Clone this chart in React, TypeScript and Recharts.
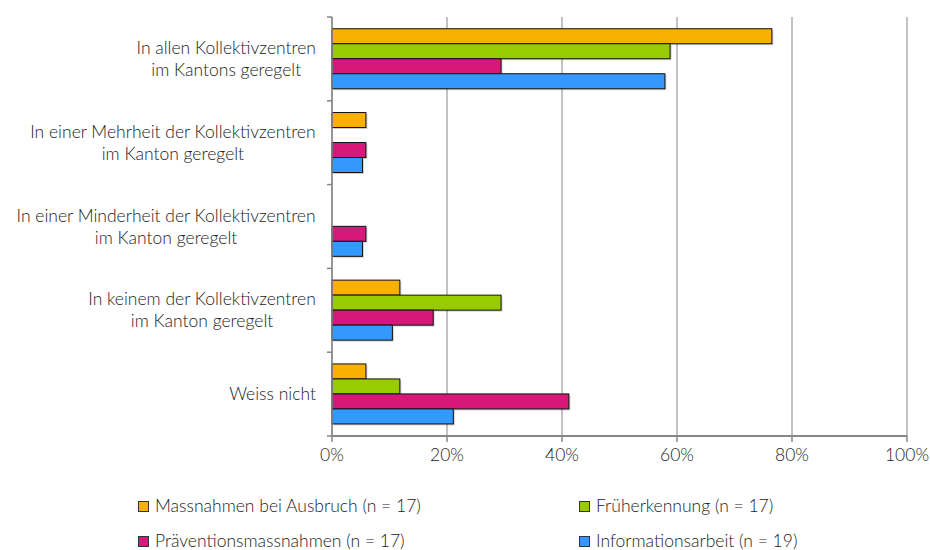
import { BarChart, Bar, XAxis, YAxis, CartesianGrid, Legend } from "recharts";

document.body.style.margin = "0";

const categories = [
  "In allen Kollektivzentren\nim Kantons geregelt",
  "In einer Mehrheit der Kollektivzentren\nim Kanton geregelt",
  "In einer Minderheit der Kollektivzentren\nim Kanton geregelt",
  "In keinem der Kollektivzentren\nim Kanton geregelt",
  "Weiss nicht",
];

// shares in percent
const massnahmen = [76.5, 5.9, 0, 11.8, 5.9];
const frueherkennung = [58.8, 0, 0, 29.4, 11.8];
const praevention = [29.4, 5.9, 5.9, 17.6, 41.2];
const information = [57.9, 5.3, 5.3, 10.5, 21.1];

const seriesNames = [
  "Massnahmen bei Ausbruch (n = 17)",
  "Früherkennung (n = 17)",
  "Präventionsmassnahmen (n = 17)",
  "Informationsarbeit (n = 19)",
];
const xTicks = [0, 20, 40, 60, 80, 100];

const colors = ["#F9B000", "#99CC00", "#D6187A", "#3399FF"];
const keys = ["massnahmen", "frueherkennung", "praevention", "information"];

const data = categories.map((name, i) => ({
  name,
  massnahmen: massnahmen[i],
  frueherkennung: frueherkennung[i],
  praevention: praevention[i],
  information: information[i],
}));

const W = 930;
const H = 550;
const MARGIN = { top: 17, right: 23, left: 0, bottom: 0 };
const AXIS_X = 332;
const X_AXIS_H = 30;
const LEGEND_H = 84;
const PLOT_H = H - MARGIN.top - X_AXIS_H - LEGEND_H;
const BAND = PLOT_H / categories.length;
const LINE_H = 22;
const FONT = "Lato, 'Open Sans', sans-serif";
const FONT_SIZE = 17.5;
const TEXT = "#222";
const GRID = "#868686";

const ctx = document.createElement("canvas").getContext("2d");
const measure = (s: string) => {
  if (!ctx) return s.length * 8;
  ctx.font = `300 ${FONT_SIZE}px Lato`;
  return ctx.measureText(s).width;
};

const CategoryTick = (props: any) => {
  const { y, payload, index } = props;
  const lines = String(payload.value).split("\n");
  const blockW = Math.max(...lines.map(measure));
  const cx = 316 - blockW / 2;
  const top = y - ((lines.length - 1) * LINE_H) / 2;
  return (
    <g>
      <line x1={AXIS_X - 5} x2={AXIS_X} y1={y - BAND / 2} y2={y - BAND / 2} stroke={GRID} strokeWidth={1.5} />
      {index === categories.length - 1 && (
        <line x1={AXIS_X - 5} x2={AXIS_X} y1={y + BAND / 2} y2={y + BAND / 2} stroke={GRID} strokeWidth={1.5} />
      )}
      <text textAnchor="middle" fill={TEXT} fontFamily={FONT} fontWeight={300} fontSize={FONT_SIZE}>
        {lines.map((l, i) => (
          <tspan key={i} x={cx} y={top + i * LINE_H} dy="0.35em">
            {l}
          </tspan>
        ))}
      </text>
    </g>
  );
};

const ShadowBar = (props: any) => {
  const { x, y, width, height, fill } = props;
  if (!width || width <= 0) return null;
  return (
    <g>
      <rect x={x + 1.5} y={y + 1.5} width={width} height={height} fill="#000" opacity={0.18} />
      <rect x={x} y={y} width={width} height={height} fill={fill} stroke="#111" strokeWidth={1} />
    </g>
  );
};

const LegendContent = () => (
  <div
    style={{
      position: "relative",
      height: LEGEND_H,
      width: W,
      fontFamily: FONT,
      fontWeight: 300,
      fontSize: FONT_SIZE,
      lineHeight: "18px",
      color: TEXT,
    }}
  >
    {seriesNames.map((name, i) => (
      <div
        key={name}
        style={{
          position: "absolute",
          left: i % 2 === 0 ? 138 : 579,
          top: i < 2 ? 31 : 66,
          height: 18,
          display: "flex",
          alignItems: "center",
          whiteSpace: "nowrap",
        }}
      >
        <span
          style={{
            display: "inline-block",
            width: 9,
            height: 9,
            background: colors[i],
            border: "1px solid #333",
            marginRight: 6,
          }}
        />
        <span>{name}</span>
      </div>
    ))}
  </div>
);

export default function App() {
  return (
    <div style={{ width: W, height: H, background: "#fff" }}>
      <BarChart
        width={W}
        height={H}
        data={data}
        layout="vertical"
        margin={MARGIN}
        barCategoryGap="14%"
        barGap={0}
      >
        <CartesianGrid horizontal={false} stroke={GRID} strokeWidth={1} />
        <XAxis
          type="number"
          domain={[0, 100]}
          ticks={xTicks}
          tickFormatter={(v) => `${v}%`}
          height={X_AXIS_H}
          axisLine={{ stroke: GRID, strokeWidth: 2 }}
          tickLine={{ stroke: GRID, strokeWidth: 1.5 }}
          tickSize={6}
          tickMargin={7}
          tick={{ fill: TEXT, fontFamily: FONT, fontWeight: 300, fontSize: FONT_SIZE }}
        />
        <YAxis
          type="category"
          dataKey="name"
          width={AXIS_X}
          interval={0}
          axisLine={{ stroke: GRID, strokeWidth: 1.5 }}
          tickLine={false}
          tick={<CategoryTick />}
        />
        <Legend
          verticalAlign="bottom"
          wrapperStyle={{ left: 0, width: W }}
          content={<LegendContent />}
        />
        {keys.map((k, i) => (
          <Bar
            key={k}
            dataKey={k}
            name={seriesNames[i]}
            fill={colors[i]}
            shape={<ShadowBar />}
            isAnimationActive={false}
          />
        ))}
      </BarChart>
    </div>
  );
}
